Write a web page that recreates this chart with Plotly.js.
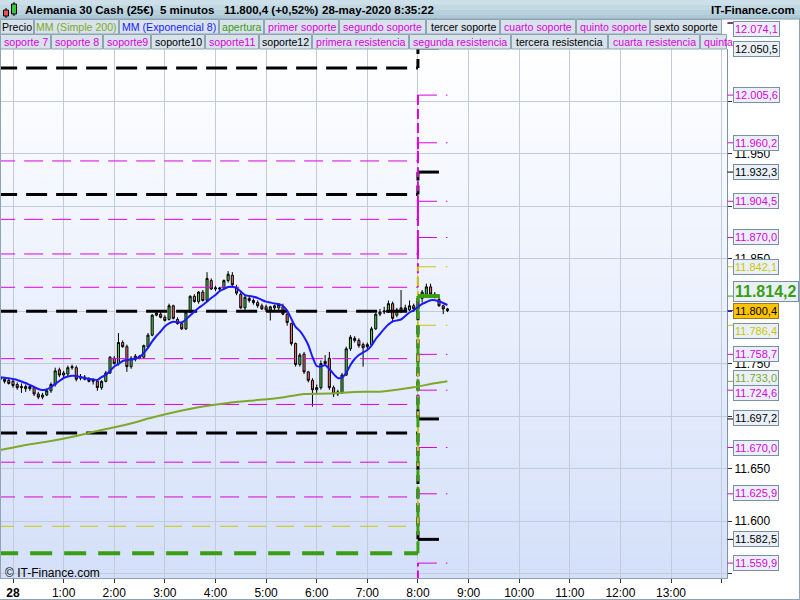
<!DOCTYPE html>
<html>
<head>
<meta charset="utf-8">
<script src="https://cdn.plot.ly/plotly-3.0.1.min.js"></script>
<style>
html,body{margin:0;padding:0;background:#ffffff;}
#chart{width:800px;height:600px;}
</style>
</head>
<body>
<div id="chart"></div>
<script>
// ---------------- DATA ----------------
// 5-minute bars from 27-may 23:45 to 28-may 08:35
const barOpen  = [11737,11735,11734,11733,11730,11727,11728,11726,11727,11721,11718,11720,11724,11730,11744,11739,11740,11746,11746,11736,11737,11735,11733,11733,11727,11733,11741,11755,11750,11770,11766,11747,11754,11757,11756,11766,11777,11796,11797,11794,11792,11805,11792,11788,11783,11799,11814,11809,11818,11810,11829,11821,11822,11822,11829,11834,11822,11816,11803,11812,11810,11808,11805,11804,11801,11805,11803,11804,11797,11788,11769,11749,11759,11742,11734,11725,11727,11750,11755,11727,11721,11722,11739,11764,11774,11772,11768,11766,11768,11783,11797,11799,11800,11807,11796,11800,11803,11801,11805,11802,11812,11816,11823,11816,11811,11805,11802];
const barHigh  = [11739,11737,11736,11735,11732,11731,11730,11729,11728,11723,11722,11726,11732,11746,11746,11743,11748,11749,11748,11740,11739,11737,11736,11734,11734,11743,11757,11757,11779,11772,11768,11757,11759,11758,11768,11779,11797,11800,11799,11796,11807,11806,11794,11790,11800,11815,11816,11819,11820,11837,11831,11824,11823,11830,11838,11837,11825,11818,11815,11815,11812,11810,11807,11806,11805,11806,11807,11807,11798,11789,11770,11760,11761,11743,11736,11730,11753,11758,11761,11729,11725,11741,11766,11777,11776,11774,11770,11770,11785,11798,11802,11804,11810,11809,11803,11820,11806,11810,11807,11816,11820,11826,11826,11818,11813,11806,11803];
const barLow   = [11733,11731,11730,11727,11725,11722,11723,11724,11719,11716,11716,11719,11722,11728,11737,11737,11738,11744,11733,11734,11734,11732,11730,11724,11725,11732,11740,11749,11748,11765,11742,11745,11752,11754,11755,11765,11776,11795,11793,11790,11791,11792,11787,11782,11782,11798,11808,11807,11809,11811,11820,11819,11819,11820,11827,11823,11815,11802,11801,11808,11806,11803,11801,11799,11791,11801,11801,11796,11786,11767,11747,11747,11740,11732,11709,11722,11725,11748,11725,11718,11719,11721,11738,11762,11770,11765,11747,11763,11767,11782,11795,11797,11798,11790,11794,11798,11799,11800,11799,11795,11808,11814,11815,11812,11804,11797,11799];
const barClose = [11735,11733,11731,11729,11727,11728,11726,11728,11721,11718,11720,11724,11730,11743,11739,11741,11746,11747,11735,11737,11735,11733,11734,11727,11733,11741,11756,11750,11770,11766,11747,11755,11757,11755,11767,11777,11796,11798,11794,11791,11805,11793,11788,11783,11799,11814,11809,11818,11810,11831,11821,11822,11821,11829,11835,11825,11817,11803,11813,11810,11808,11805,11802,11801,11804,11803,11806,11797,11789,11769,11749,11758,11742,11734,11725,11727,11750,11752,11727,11721,11723,11739,11764,11775,11772,11767,11765,11768,11783,11797,11799,11800,11807,11793,11801,11803,11801,11805,11802,11812,11818,11823,11816,11814,11805,11802,11800.4];

// Exponential moving average (8), one value per bar
const ema8 = [11736.9,11736.4,11735.9,11735.2,11734.3,11732.9,11731.4,11729.5,11727.6,11725.7,11724.8,11725.2,11727.6,11730.5,11733.3,11736.2,11737.6,11738.4,11738.1,11737.1,11736.2,11735.2,11734.8,11734.3,11737.1,11739.0,11742.9,11747.1,11749.5,11752.4,11753.3,11753.8,11754.8,11756.2,11760.0,11764.8,11771.0,11776.2,11780.5,11785.2,11788.1,11789.7,11789.3,11789.0,11791.9,11795.7,11799.5,11802.9,11805.7,11809.0,11812.4,11815.2,11819.0,11821.0,11822.9,11823.1,11821.9,11818.6,11815.2,11814.3,11813.6,11812.4,11810.5,11808.9,11808.1,11807.1,11806.7,11804.8,11800.5,11792.4,11784.8,11781.0,11775.2,11767.6,11756.2,11747.6,11747.1,11748.6,11744.8,11740.0,11736.2,11736.7,11741.0,11748.6,11754.3,11758.1,11760.5,11762.9,11767.1,11773.3,11778.1,11782.9,11787.1,11790.0,11791.0,11791.9,11795.2,11798.6,11800.5,11803.8,11806.7,11808.6,11810.2,11810.2,11809.0,11807.6,11805.7];

// Simple moving average (200), read every 6 bars (bar index from first bar)
const smaBarIndex = [0,6,12,18,24,30,36,42,48,54,60,66,72,78,84,90,98,102,106];
const smaValues   = [11667.6,11672.4,11676.2,11681.0,11686.7,11691.9,11698.6,11704.3,11709.0,11712.4,11714.8,11717.1,11721.0,11721.4,11722.9,11723.2,11727.3,11730.5,11733.0];

// Support / resistance levels: previous session value -> new value from 08:00
const levelNames  = ['tercer soporte','sexto soporte','soporte10','soporte12',
                     'primer soporte','segundo soporte','cuarto soporte','quinto soporte','soporte 7','soporte 8','soporte9','soporte11','primera resistencia',
                     'nivel a','nivel b','apertura'];
const levelBefore = [12031.4,11911.0,11799.7,11683.8,
                     11942.9,11887.3,11854.3,11822.6,11754.6,11711.0,11656.0,11622.9,11530.0,
                     11595.0,null,11569.2];
const levelAfter  = [12050.5,11932.3,11697.2,11582.5,
                     12005.6,11960.2,11904.5,11870.0,11758.7,11724.6,11670.0,11625.9,11559.9,
                     11842.1,11786.4,11814.2];
const levelKind   = ['k','k','k','k','m','m','m','m','m','m','m','m','m','y','y','g'];

// Right-hand value labels
const labelValues = [12074.1,12050.5,12005.6,11960.2,11932.3,11904.5,11870.0,11842.1,11814.2,11800.4,11786.4,11758.7,11733.0,11724.6,11697.2,11670.0,11625.9,11582.5,11559.9];
const labelKind   = ['m','k','m','m','k','m','m','y','g','p','y','m','o','m','k','m','m','k','m'];

// Axis ticks
const hourTickVals = ['2020-05-28 00:00','2020-05-28 01:00','2020-05-28 02:00','2020-05-28 03:00','2020-05-28 04:00','2020-05-28 05:00','2020-05-28 06:00','2020-05-28 07:00','2020-05-28 08:00','2020-05-28 09:00','2020-05-28 10:00','2020-05-28 11:00','2020-05-28 12:00','2020-05-28 13:00','2020-05-28 14:00'];
const hourTickText = ['<b>28</b>','1:00','2:00','3:00','4:00','5:00','6:00','7:00','8:00','9:00','10:00','11:00','12:00','13:00',''];
const priceTickVals = [11550,11600,11650,11700,11750,11800,11850,11900,11950,12000,12050];
const priceTickText = ['','11.600','11.650','','11.750','','11.850','','11.950','',''];

// Header / legend text
const headerParts = ['Alemania 30 Cash (25€)','5 minutos','11.800,4 (+0,52%)','28-may-2020 8:35:22'];
const legendRow1 = ['Precio','MM (Simple 200)','MM (Exponencial 8)','apertura','primer soporte','segundo soporte','tercer soporte','cuarto soporte','quinto soporte','sexto soporte'];
const legendRow2 = ['soporte 7','soporte 8','soporte9','soporte10','soporte11','soporte12','primera resistencia','segunda resistencia','tercera resistencia','cuarta resistencia','quinta'];

// ---------------- STYLE / LAYOUT ----------------
const FONT = 'Liberation Sans, Arial, sans-serif';
const W = 800, H = 600;
const PX = x => x / W;
const PY = y => 1 - y / H;
const COL = {k:'#000000', m:'#dd00dd', y:'#c8c800', g:'#3a9e10', o:'#7fa82a', b:'#1a1aff', p:'#000000'};
const headerX = [23,158,222,320];
const legendRow1X = [[0,34],[34,119],[119,219],[219,264],[264,339],[339,426],[426,500],[500,576],[576,650],[650,722]];
const legendRow2X = [[0,51],[51,103],[103,151],[151,205],[205,259],[259,312],[312,409],[409,511],[511,608],[608,700],[700,727]];
const legendRow1C = ['k','o','b','g','m','m','k','m','m','k'];
const legendRow2C = ['m','m','m','k','m','k','m','m','k','m','m'];
const labelPy = [29,49,95,143,172,201,237,267,291,311,331,354,378,393,418,448,493,539,563];

function pad(n){return (n<10?'0':'')+n;}
function fmtTime(d){return d.getUTCFullYear()+'-'+pad(d.getUTCMonth()+1)+'-'+pad(d.getUTCDate())+' '+pad(d.getUTCHours())+':'+pad(d.getUTCMinutes());}
const barTimes = [];
{
  const t0 = Date.UTC(2020,4,27,23,45);
  for (let i = 0; i < barOpen.length; i++) barTimes.push(fmtTime(new Date(t0 + i*300000)));
}
function fmtNum(v){
  const s = v.toFixed(1).split('.');
  const ip = s[0].replace(/\B(?=(\d{3})+(?!\d))/g,'.');
  return ip + ',' + s[1];
}

const traces = [];

// Candles
traces.push({
  type:'candlestick', name:'Precio',
  x: barTimes, open: barOpen, high: barHigh, low: barLow, close: barClose,
  increasing:{line:{color:'#000000',width:1}, fillcolor:'#50d050'},
  decreasing:{line:{color:'#000000',width:1}, fillcolor:'#f07272'},
  whiskerwidth:0, showlegend:false, hoverinfo:'skip'
});

// Levels: previous-session segment, 08:00 connector, new-session segment
const LS = {
  k:{color:'#000000',width:3,dash:'21px,9px'},
  m:{color:'#dd00dd',width:1,dash:'19px,9px'},
  y:{color:'#c8c800',width:1,dash:'18px,10px'},
  g:{color:'#3a9e10',width:4,dash:'22px,12px'}
};
const T_START = '2020-05-27 23:40', T_SWITCH = '2020-05-28 08:00', T_END = '2020-05-28 08:35';
const VS = {
  k:{color:'#000000',width:3,dash:'9px,5px'},
  m:{color:'#dd00dd',width:2,dash:'10px,4px'},
  y:{color:'#c8c800',width:2,dash:'10px,5px'},
  g:{color:'#3a9e10',width:3,dash:'12px,6px'}
};
for (let i = 0; i < levelNames.length; i++) {
  const st = LS[levelKind[i]];
  if (levelBefore[i] !== null) {
    traces.push({type:'scatter', mode:'lines', name:levelNames[i], x:[T_START,T_SWITCH], y:[levelBefore[i],levelBefore[i]],
      line:st, showlegend:false, hoverinfo:'skip'});
    traces.push({type:'scatter', mode:'lines', name:levelNames[i], x:[T_SWITCH,T_SWITCH], y:[levelBefore[i],levelAfter[i]],
      line:VS[levelKind[i]], showlegend:false, hoverinfo:'skip'});
  }
  traces.push({type:'scatter', mode:'lines', name:levelNames[i], x:[T_SWITCH,T_END], y:[levelAfter[i],levelAfter[i]],
    line:st, showlegend:false, hoverinfo:'skip'});
}

// SMA 200
traces.push({type:'scatter', mode:'lines', name:'MM (Simple 200)',
  x: smaBarIndex.map(i => barTimes[i]), y: smaValues,
  line:{color:'#7fa82a', width:2, shape:'spline', smoothing:0.6}, showlegend:false, hoverinfo:'skip'});

// EMA 8
traces.push({type:'scatter', mode:'lines', name:'MM (Exponencial 8)',
  x: barTimes, y: ema8,
  line:{color:'#1a1aff', width:2, shape:'spline', smoothing:0.5}, showlegend:false, hoverinfo:'skip'});

// Shapes
const shapes = [];
// plot background gradient
const NB = 53, bgTop = 49, bgBot = 578;
for (let i = 0; i < NB; i++) {
  const t = (i + 0.5) / NB;
  const r = Math.round(255 + (212-255)*t), g = Math.round(255 + (224-255)*t), b = Math.round(255 + (250-255)*t);
  const y0 = bgTop + (bgBot-bgTop)*i/NB, y1 = bgTop + (bgBot-bgTop)*(i+1)/NB + 0.5;
  shapes.push({type:'rect', xref:'paper', yref:'paper', x0:0, x1:PX(727), y0:PY(y1), y1:PY(y0),
    fillcolor:`rgb(${r},${g},${b})`, line:{width:0}, layer:'below'});
}
// header bar
const hdrCols = ['#cde0e9','#c2d9e4','#b8d1dd','#aec9d6'];
for (let i = 0; i < 4; i++) {
  shapes.push({type:'rect', xref:'paper', yref:'paper', x0:0, x1:1, y0:PY(i*4.75+4.75+0.3), y1:PY(i*4.75),
    fillcolor:hdrCols[i], line:{width:0}, layer:'above'});
}
shapes.push({type:'line', xref:'paper', yref:'paper', x0:0, x1:1, y0:PY(19), y1:PY(19), line:{color:'#8aa0b0',width:1}});
// legend boxes
function legBoxes(arr, y0, y1) {
  arr.forEach(([a,b]) => shapes.push({type:'rect', xref:'paper', yref:'paper', x0:PX(a+0.5), x1:PX(b-0.5), y0:PY(y1), y1:PY(y0),
    fillcolor:'#d7e2eb', line:{color:'#8ea3b3', width:1}, layer:'above'}));
}
legBoxes(legendRow1X, 19.5, 34);
legBoxes(legendRow2X, 34.5, 49);
// header icon
shapes.push({type:'line', xref:'paper', yref:'paper', x0:PX(6), x1:PX(6), y0:PY(18), y1:PY(8), line:{color:'#000',width:1}});
shapes.push({type:'rect', xref:'paper', yref:'paper', x0:PX(3.5), x1:PX(8.5), y0:PY(16), y1:PY(10), fillcolor:'#f05050', line:{color:'#000',width:1}});
shapes.push({type:'line', xref:'paper', yref:'paper', x0:PX(14), x1:PX(14), y0:PY(16), y1:PY(2), line:{color:'#000',width:1}});
shapes.push({type:'rect', xref:'paper', yref:'paper', x0:PX(11.5), x1:PX(16.5), y0:PY(14), y1:PY(4), fillcolor:'#40c040', line:{color:'#000',width:1}});
// frame lines
shapes.push({type:'line', xref:'paper', yref:'paper', x0:PX(0.5), x1:PX(0.5), y0:PY(578), y1:PY(49), line:{color:'#8ea3b3',width:1}});
shapes.push({type:'line', xref:'paper', yref:'paper', x0:PX(799.5), x1:PX(799.5), y0:PY(600), y1:PY(19), line:{color:'#8ea3b3',width:1}});
shapes.push({type:'line', xref:'paper', yref:'paper', x0:0, x1:1, y0:PY(599.5), y1:PY(599.5), line:{color:'#8ea3b3',width:1}});
// colored ticks on value axis
for (let i = 0; i < labelValues.length; i++) {
  const c = labelKind[i] === 'p' ? COL.b : COL[labelKind[i]];
  if (labelValues[i] > 12049) {
    shapes.push({type:'line', xref:'paper', yref:'paper', x0:PX(727.5), x1:PX(733), y0:PY(23), y1:PY(23), line:{color:c,width:1}});
  } else {
    shapes.push({type:'line', xref:'paper', yref:'y', x0:PX(727.5), x1:PX(733), y0:labelValues[i], y1:labelValues[i], line:{color:c,width:1}});
  }
}

// Annotations
const ann = [];
headerParts.forEach((t,i) => ann.push({xref:'paper', yref:'paper', x:PX(headerX[i]), y:PY(10), xanchor:'left', yanchor:'middle',
  text:'<b>'+t+'</b>', showarrow:false, font:{family:FONT, size:11.5, color:'#000'}}));
ann.push({xref:'paper', yref:'paper', x:PX(797), y:PY(10), xanchor:'right', yanchor:'middle',
  text:'<b>IT-Finance.com</b>', showarrow:false, font:{family:FONT, size:11.5, color:'#000'}});
legendRow1.forEach((t,i) => ann.push({xref:'paper', yref:'paper', x:PX((legendRow1X[i][0]+legendRow1X[i][1])/2), y:PY(27), xanchor:'center', yanchor:'middle',
  text:t, showarrow:false, font:{family:FONT, size:10.6, color:COL[legendRow1C[i]]}}));
legendRow2.forEach((t,i) => {
  const last = i === legendRow2.length-1;
  ann.push({xref:'paper', yref:'paper', x: last ? PX(702) : PX((legendRow2X[i][0]+legendRow2X[i][1])/2), y:PY(42),
    xanchor: last ? 'left' : 'center', yanchor:'middle',
    text:t, showarrow:false, font:{family:FONT, size:10.6, color:COL[legendRow2C[i]]}});
});
for (let i = 0; i < labelValues.length; i++) {
  const k = labelKind[i];
  const base = {xref:'paper', yref:'paper', x:PX(733), y:PY(labelPy[i]), xanchor:'left', yanchor:'middle',
    text:fmtNum(labelValues[i]), showarrow:false, borderwidth:1, borderpad:1, bordercolor:'#7a8fa0', bgcolor:'#eaf0f9',
    font:{family:FONT, size:11, color:COL[k]}};
  if (k === 'g') { base.text = '<b>'+fmtNum(labelValues[i])+'</b>'; base.font = {family:FONT, size:16, color:COL.g}; }
  if (k === 'p') { base.bgcolor = '#ffc400'; base.bordercolor = '#9a7a20'; base.font = {family:FONT, size:11, color:'#000'}; }
  ann.push(base);
}
ann.push({xref:'paper', yref:'paper', x:PX(3), y:PY(573), xanchor:'left', yanchor:'middle',
  text:'© IT-Finance.com', showarrow:false, font:{family:FONT, size:12, color:'#000'}});

const layout = {
  width:W, height:H,
  margin:{l:0,r:0,t:0,b:0,pad:0},
  paper_bgcolor:'#ffffff', plot_bgcolor:'rgba(0,0,0,0)',
  separators:',.',
  showlegend:false, hovermode:false,
  xaxis:{type:'date', domain:[0, PX(727)], range:['2020-05-27 23:44:35','2020-05-28 14:06:22'],
    tickvals:hourTickVals, ticktext:hourTickText, tickmode:'array',
    showgrid:true, gridcolor:'#c3cbdb', gridwidth:1, zeroline:false,
    ticks:'outside', ticklen:4, tickcolor:'#333', showline:true, linecolor:'#8ea3b3', linewidth:1,
    tickfont:{family:FONT, size:12, color:'#000'}, rangeslider:{visible:false}, automargin:false, fixedrange:true},
  yaxis:{domain:[PY(578), PY(49)], range:[11545.71, 12049.52], side:'right',
    tickmode:'array', tickvals:priceTickVals, ticktext:priceTickText,
    showgrid:true, gridcolor:'#c3cbdb', gridwidth:1, zeroline:false,
    ticks:'outside', ticklen:4, tickcolor:'#333', showline:true, linecolor:'#7d92a4', linewidth:1,
    tickfont:{family:FONT, size:12, color:'#000'}, automargin:false, fixedrange:true},
  shapes:shapes, annotations:ann
};

Plotly.newPlot('chart', traces, layout, {staticPlot:true, displayModeBar:false});
</script>
</body>
</html>
